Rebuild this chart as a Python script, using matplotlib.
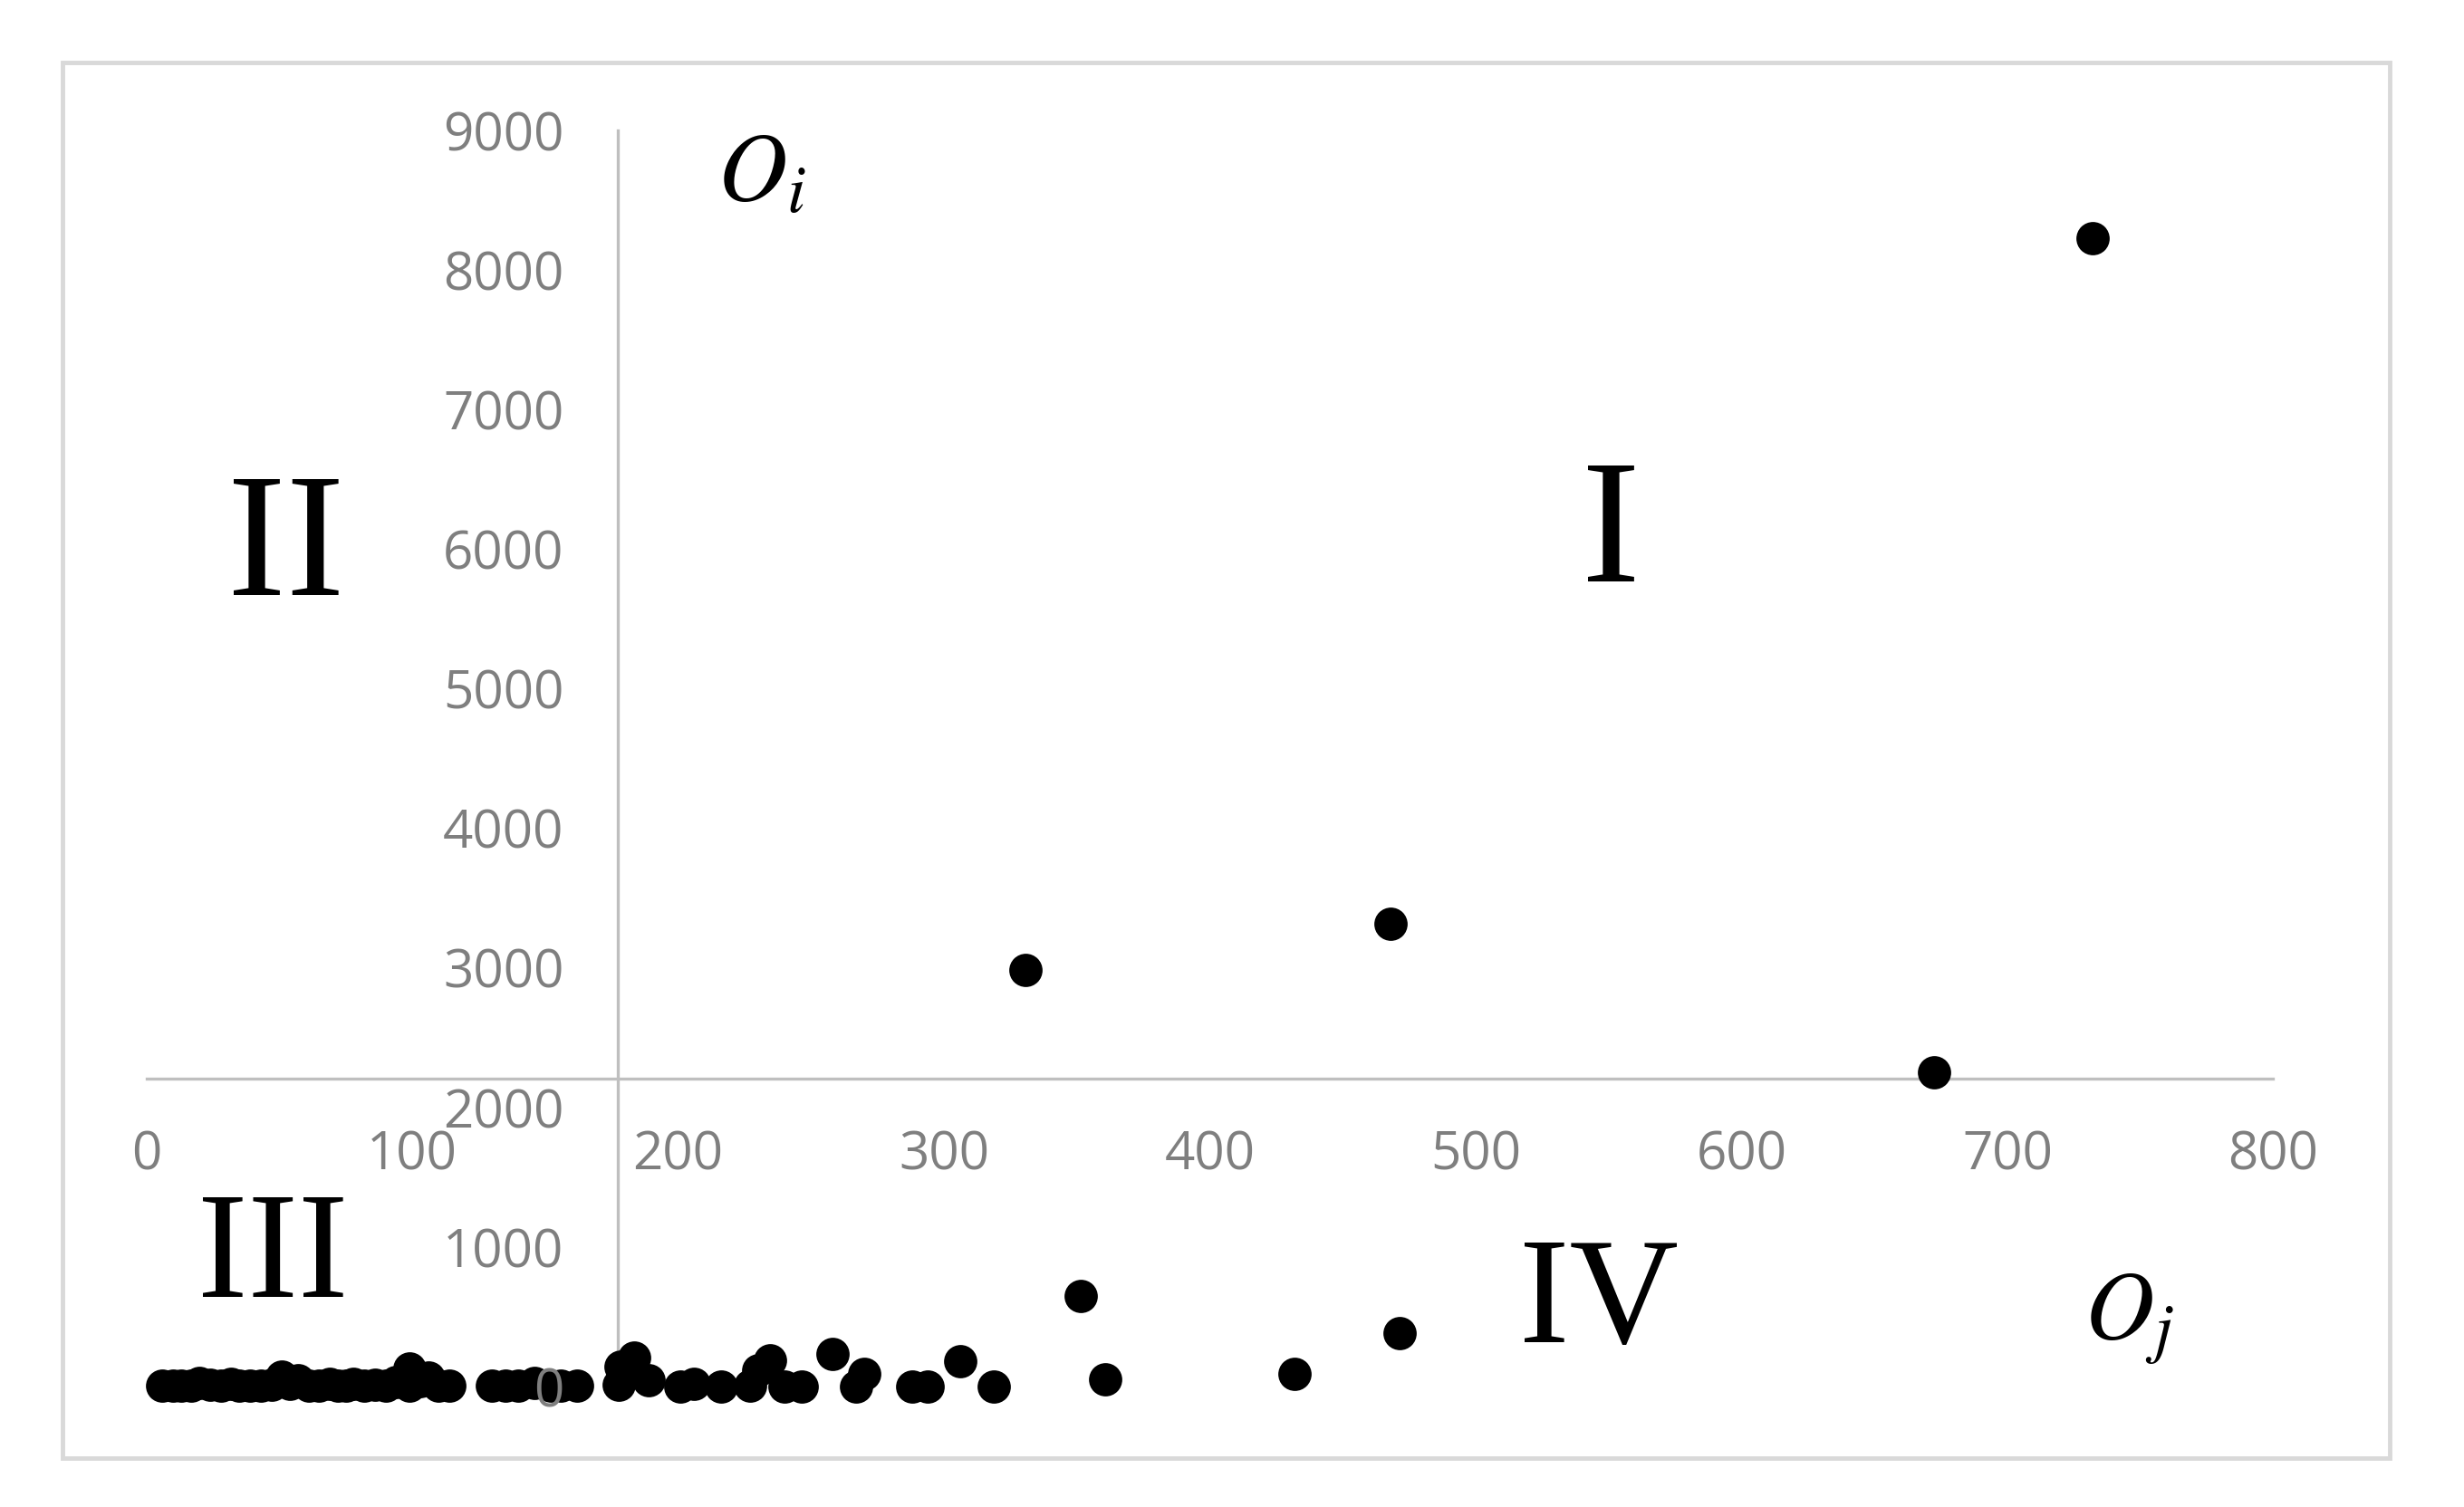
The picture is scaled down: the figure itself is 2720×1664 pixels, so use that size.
import matplotlib

matplotlib.use("Agg")
import matplotlib.pyplot as plt  # noqa: E402
from matplotlib.patches import Rectangle  # noqa: E402

# data
oj = [6, 10, 13, 17, 20, 24, 28, 32, 35, 39, 43, 47, 51, 54, 57, 61, 65, 69, 72, 75,
      78, 82, 86, 90, 94, 99, 99, 103, 106, 110, 114,
      130, 135, 140, 146, 152, 156, 162,
      177.6, 178.4, 183.3, 189, 201, 206, 216, 227, 230, 234.6, 240, 246.6, 258, 270,
      267, 288, 293.7, 306, 318.7, 351.4, 360.7, 431.8, 471.4,
      330.6, 467.9, 672.4, 732]
oi = [5, 8, 4, 10, 26, 12, 6, 22, 8, 5, 10, 14, 69, 20, 43, 10, 6, 20, 9, 5,
      20, 8, 12, 6, 30, 130, 5, 40, 65, 10, 5,
      5, 8, 6, 25, 8, 5, 6,
      11, 141, 210, 43, 3, 22, 3, 10, 120, 189, 3, 3, 232, 94,
      3, 3, 3, 184, 3, 649, 50, 93, 383,
      2987, 3318, 2251, 8227]

x_ticks = [0, 100, 200, 300, 400, 500, 600, 700, 800]
y_ticks = [0, 1000, 2000, 3000, 4000, 5000, 6000, 7000, 8000, 9000]
x_cross = 177.4   # where the vertical axis crosses
y_cross = 2205    # where the horizontal axis crosses

quadrants = ["I", "II", "III", "IV"]

fig = plt.figure(figsize=(27.2, 16.64), dpi=100)
ax = fig.add_axes([0.0594, 0.0799, 0.8632, 0.8335])

ax.scatter(oj, oi, s=700, color="black", linewidths=0, zorder=1, clip_on=False)

ax.set_xlim(0, 800)
ax.set_ylim(0, 9000)
ax.set_xticks(x_ticks)
ax.set_yticks(y_ticks)

for side in ("top", "right"):
    ax.spines[side].set_visible(False)
ax.spines["left"].set_position(("data", x_cross))
ax.spines["bottom"].set_position(("data", y_cross))
for side in ("left", "bottom"):
    ax.spines[side].set_color("#bfbfbf")
    ax.spines[side].set_linewidth(2.4)
    ax.spines[side].set_zorder(0.5)

ax.tick_params(length=0, labelsize=42, labelcolor="#7f7f7f")
ax.tick_params(axis="y", pad=43)
ax.tick_params(axis="x", pad=40)
for lab in ax.get_xticklabels() + ax.get_yticklabels():
    lab.set_fontfamily("Open Sans")

serif = "Liberation Serif"
fig.text(0.6537, 0.6142, quadrants[0], ha="center", va="baseline", fontsize=140, family=serif)
fig.text(0.1162, 0.6052, quadrants[1], ha="center", va="baseline", fontsize=140, family=serif)
fig.text(0.1107, 0.1396, quadrants[2], ha="center", va="baseline", fontsize=120, family=serif)
fig.text(0.6489, 0.1096, quadrants[3], ha="center", va="baseline", fontsize=120, family=serif)

plt.rcParams["mathtext.fontset"] = "stix"
fig.text(0.2912, 0.8672, r"$O_i$", ha="left", va="baseline", fontsize=76)
fig.text(0.846, 0.1124, r"$O_j$", ha="left", va="baseline", fontsize=76)

fig.patches.append(Rectangle((0.0254, 0.0325), 0.9445, 0.926, transform=fig.transFigure,
                             fill=False, edgecolor="#d9d9d9", linewidth=3.5))

fig.savefig("out.png", dpi=100)
plt.close(fig)
